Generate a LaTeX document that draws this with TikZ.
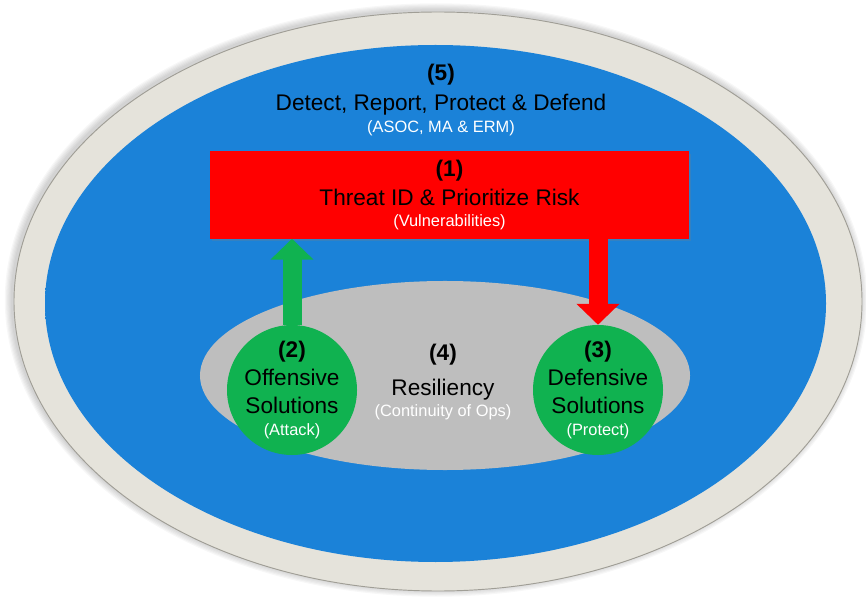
\documentclass[tikz,border=0pt]{standalone}
\usepackage{fontspec}
\setmainfont{Liberation Sans}
\usetikzlibrary{arrows.meta,shapes.geometric,shadows}
\definecolor{rimgray}{RGB}{229,227,219}
\definecolor{rimedge}{RGB}{160,158,150}
\definecolor{bowlblue}{RGB}{27,130,216}
\definecolor{bowldark}{RGB}{12,84,160}
\definecolor{riskred}{RGB}{255,0,0}
\definecolor{solgreen}{RGB}{16,178,80}
\definecolor{resgray}{RGB}{190,190,190}
\pgfdeclareradialshading{bowl}{\pgfpoint{0bp}{0bp}}{color(0bp)=(bowlblue); color(44bp)=(bowlblue); color(48bp)=(bowlblue!82!black); color(50bp)=(bowldark)}
\newcommand\subtxt[1]{{\fontsize{14}{16}\selectfont\color{white}#1}}

\begin{document}
\begin{tikzpicture}[x=0.03cm, y=-0.03cm,
    bigtxt/.style={align=center, font=\fontsize{19.3}{24}\selectfont},
    riskbox/.style={bigtxt, rectangle, fill=riskred, inner sep=0pt,
        minimum width=14.37cm, minimum height=2.61cm,
        drop shadow={opacity=0.25, shadow xshift=2pt, shadow yshift=-2pt}},
    resilell/.style={ellipse, fill=resgray, inner sep=0pt,
        minimum width=14.7cm, minimum height=5.67cm},
    solcirc/.style={bigtxt, circle, fill=solgreen, inner sep=-8pt, minimum size=3.9cm},
    blockarrow/.style={line width=0.57cm, -{Triangle[length=0.63cm, width=1.26cm]}}]
    %%%%% START %%%%%
    \useasboundingbox (0,0) rectangle (866,599);

    % soft shadow round the rim
    \foreach \s in {1,...,6}
        \fill[black, opacity=0.03] (436,300) ellipse ({424+1.2*\s} and {289.5+1.2*\s});

    \draw[fill=rimgray, draw=rimedge, line width=0.8pt] (438,301.5) ellipse (424 and 289.5);
    \shade[shading=bowl] (435.5,303.5) ellipse (390.5 and 258.5);

    \node[bigtxt] (detect) at (441,100) {\textbf{(5)}\\[2pt]Detect, Report, Protect \& Defend\\[-5pt]\subtxt{(ASOC, MA \& ERM)}};

    \node[riskbox] (threat) at (449.5,195) {\textbf{(1)}\\Threat ID \& Prioritize Risk\\[-6pt]\subtxt{(Vulnerabilities)}};

    \node[resilell] (resil) at (445,375.5) {};
    \node[bigtxt] (resiltxt) at (443,382) {\textbf{(4)}\\[6pt]Resiliency\\[-6pt]\subtxt{(Continuity of Ops)}};

    \node[solcirc] (off) at (292,390) {\textbf{(2)}\\Offensive\\Solutions\\[-5pt]\subtxt{(Attack)}};
    \node[solcirc] (def) at (598,390) {\textbf{(3)}\\Defensive\\Solutions\\[-5pt]\subtxt{(Protect)}};

    \draw[blockarrow, solgreen] (off.north) -- (off.north |- threat.south);
    \draw[blockarrow, riskred] (threat.south -| def.north) -- (def.north);
    %%%%% END %%%%%
\end{tikzpicture}
\end{document}
